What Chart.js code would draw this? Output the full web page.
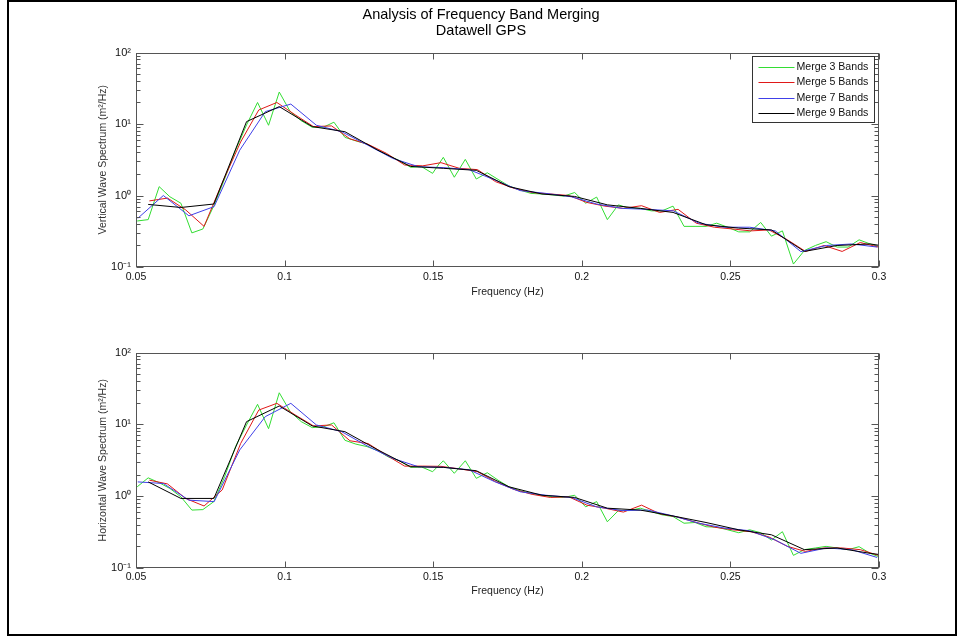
<!DOCTYPE html>
<html>
<head>
<meta charset="utf-8">
<title>Analysis of Frequency Band Merging</title>
<script src="https://cdn.jsdelivr.net/npm/chart.js@4.4.1/dist/chart.umd.min.js"></script>
<style>
body{margin:0;background:#fff;width:962px;height:638px;overflow:hidden;position:relative;}
.wrap{position:absolute;left:0;width:962px;}
#frame{position:absolute;left:7px;top:0;width:946px;height:632px;border:2px solid #000;}
</style>
</head>
<body>
<div class="wrap" style="top:0;height:310px"><canvas id="topChart" width="962" height="310"></canvas></div>
<div class="wrap" style="top:310px;height:300px"><canvas id="botChart" width="962" height="300"></canvas></div>
<div id="frame"></div>
<script>
/* band centre frequencies (Hz) for each merge size */
let freq3 = [0.0504,0.0541,0.0578,0.0614,0.0651,0.0688,0.0725,0.0762,0.0798,0.0835,
  0.0872,0.0909,0.0946,0.0982,0.1019,0.1056,0.1093,0.1130,0.1166,0.1203,
  0.1240,0.1277,0.1314,0.1350,0.1387,0.1424,0.1461,0.1498,0.1534,0.1571,
  0.1608,0.1645,0.1682,0.1718,0.1755,0.1792,0.1829,0.1866,0.1902,0.1939,
  0.1976,0.2013,0.2050,0.2086,0.2123,0.2160,0.2197,0.2234,0.2270,0.2307,
  0.2344,0.2381,0.2418,0.2454,0.2491,0.2528,0.2565,0.2602,0.2638,0.2675,
  0.2712,0.2749,0.2786,0.2822,0.2859,0.2896,0.2933,0.2970,0.3006];
let freq5 = [0.0545,0.0606,0.0667,0.0729,0.0790,0.0852,0.0913,0.0974,0.1036,0.1097,
  0.1158,0.1220,0.1281,0.1342,0.1404,0.1465,0.1526,0.1588,0.1649,0.1710,
  0.1772,0.1833,0.1894,0.1956,0.2017,0.2078,0.2140,0.2201,0.2262,0.2324,
  0.2385,0.2446,0.2508,0.2569,0.2630,0.2692,0.2753,0.2815,0.2876,0.2937,0.2998];
let freq7 = [0.0506,0.0592,0.0678,0.0763,0.0849,0.0935,0.1021,0.1107,0.1192,0.1278,
  0.1364,0.1450,0.1536,0.1621,0.1707,0.1793,0.1879,0.1965,0.2050,0.2136,
  0.2222,0.2308,0.2394,0.2479,0.2565,0.2651,0.2737,0.2823,0.2908,0.2994];
let freq9 = [0.0541,0.0651,0.0762,0.0872,0.0982,0.1093,0.1203,0.1314,0.1424,0.1534,
  0.1645,0.1755,0.1866,0.1976,0.2086,0.2197,0.2307,0.2418,0.2528,0.2638,
  0.2749,0.2859,0.2970,0.3080];

/* vertical spectrum (m^2/Hz) */
let vert3 = [0.44,0.46,1.33,0.96,0.78,0.30,0.34,0.72,1.7,4.3,
  9.7,20,9.6,28,14.9,11.1,9.0,9.0,10.6,6.5,
  5.8,5.25,4.3,3.6,3.07,2.48,2.53,2.04,3.42,1.8,
  3.2,1.70,2.08,1.68,1.36,1.19,1.07,1.05,1.02,0.98,
  1.1,0.78,0.95,0.46,0.74,0.66,0.66,0.61,0.61,0.71,
  0.37,0.37,0.37,0.41,0.36,0.31,0.31,0.42,0.27,0.32,
  0.11,0.17,0.20,0.226,0.19,0.19,0.24,0.21,0.19];
let vert5 = [0.84,0.92,0.63,0.37,1.5,5.6,15.7,20,13.4,9.2,
  9.4,6.2,5.2,3.9,2.67,2.6,2.88,2.4,2.3,1.56,
  1.26,1.1,1.05,1.0,0.8,0.71,0.66,0.72,0.58,0.64,
  0.41,0.36,0.34,0.32,0.33,0.24,0.165,0.2,0.165,0.22,0.19];
let vert7 = [0.48,1.0,0.52,0.70,4.3,14.9,19,9.6,7.8,5.1,
  3.3,2.53,2.45,2.3,1.65,1.17,1.07,0.96,0.76,0.66,
  0.64,0.61,0.41,0.36,0.36,0.32,0.164,0.2,0.21,0.19];
let vert9 = [0.75,0.68,0.76,10.8,17.5,9.2,7.8,4.3,2.55,2.4,
  2.25,1.33,1.05,0.97,0.74,0.66,0.58,0.39,0.35,0.33,
  0.165,0.20,0.21,0.18];

/* horizontal spectrum (m^2/Hz) */
let horiz3 = [1.35,1.8,1.54,1.28,0.98,0.64,0.65,0.84,1.86,4.9,
  9.8,19,8.7,27.5,15,10.9,9.0,9.2,10.5,6.0,
  5.3,4.9,4.3,3.5,3.1,2.52,2.55,2.19,3.11,2.08,
  3.11,1.77,2.12,1.67,1.35,1.19,1.09,1.03,0.98,0.96,
  1.03,0.71,0.84,0.44,0.63,0.63,0.68,0.61,0.55,0.52,
  0.42,0.43,0.375,0.37,0.34,0.31,0.34,0.31,0.245,0.32,
  0.15,0.18,0.19,0.20,0.19,0.18,0.198,0.16,0.14];
let horiz5 = [1.67,1.48,0.93,0.73,1.22,5.4,15.8,19.6,13.5,9.5,
  9.8,5.9,5.4,3.73,2.62,2.62,2.6,2.4,2.19,1.59,
  1.24,1.06,0.96,0.98,0.75,0.68,0.60,0.75,0.57,0.51,
  0.43,0.37,0.34,0.32,0.27,0.20,0.17,0.19,0.19,0.18,0.15];
let horiz7 = [1.58,1.5,0.88,0.84,4.4,12.8,19.6,9.8,7.9,5.0,
  3.36,2.57,2.52,2.33,1.59,1.15,1.03,0.96,0.71,0.63,
  0.64,0.53,0.42,0.36,0.33,0.245,0.16,0.19,0.18,0.14];
let horiz9 = [1.58,0.93,0.93,10.9,18,9.5,7.9,4.4,2.57,2.52,
  2.26,1.35,1.03,0.96,0.68,0.64,0.53,0.43,0.34,0.29,
  0.18,0.19,0.16,0.14];

let seriesNames = ["Merge 3 Bands","Merge 5 Bands","Merge 7 Bands","Merge 9 Bands"];
let seriesColors = ["#33dd33","#e01818","#4040e8","#000000"];
let xTicks = [0.05,0.1,0.15,0.2,0.25,0.3];
let xTickLabels = ["0.05","0.1","0.15","0.2","0.25","0.3"];
let yTicks = [0.1,1,10,100];
let yTickLabels = ["10\u207B\u00B9","10\u2070","10\u00B9","10\u00B2"];

Chart.defaults.font.family = "'Liberation Sans', Arial, sans-serif";
Chart.defaults.color = "#111";
const axisColor = "#555";

/* MATLAB style box with inward ticks */
const boxTicks = {
    id:"boxTicks",
    afterDatasetsDraw(chart){
        let ctx = chart.ctx, a = chart.chartArea, x = chart.scales.x, y = chart.scales.y;
        let L = Math.round(a.left)+0.5, R = Math.round(a.right)-0.5;
        let T = Math.round(a.top)+0.5, B = Math.round(a.bottom)-0.5;
        ctx.save();
        ctx.strokeStyle = axisColor;
        ctx.lineWidth = 1;
        ctx.strokeRect(L, T, R-L, B-T);
        ctx.beginPath();
        xTicks.forEach(v=>{
            let px = Math.round(x.getPixelForValue(v))+0.5;
            ctx.moveTo(px,B); ctx.lineTo(px,B-6);
            ctx.moveTo(px,T); ctx.lineTo(px,T+6);
        });
        yTicks.forEach(v=>{
            let py = Math.round(y.getPixelForValue(v))+0.5;
            ctx.moveTo(L,py); ctx.lineTo(L+7,py);
            ctx.moveTo(R,py); ctx.lineTo(R-7,py);
        });
        [0.1,1,10].forEach(d=>{
            for(let m=2;m<10;m++){
                let py = Math.round(y.getPixelForValue(d*m))+0.5;
                ctx.moveTo(L,py); ctx.lineTo(L+4,py);
                ctx.moveTo(R,py); ctx.lineTo(R-4,py);
            }
        });
        ctx.stroke();
        ctx.restore();
    }
};

/* boxed legend inside the top right of the axes */
const boxLegend = {
    id:"boxLegend",
    afterDraw(chart, args, opts){
        if(!opts.display) return;
        let ctx = chart.ctx, a = chart.chartArea;
        let left = Math.round(a.right - 127)+0.5, top = Math.round(a.top + 3.5)+0.5;
        ctx.save();
        ctx.fillStyle = "#fff";
        ctx.fillRect(left, top, 122, 66);
        ctx.strokeStyle = "#333";
        ctx.lineWidth = 1;
        ctx.strokeRect(left, top, 122, 66);
        ctx.font = "10.6px 'Liberation Sans', Arial, sans-serif";
        ctx.textBaseline = "middle";
        chart.data.datasets.forEach((ds,i)=>{
            let yy = Math.round(top + 10 + i*15.6)+0.5;
            ctx.strokeStyle = ds.borderColor;
            ctx.beginPath();
            ctx.moveTo(left+6, yy); ctx.lineTo(left+42, yy);
            ctx.stroke();
            ctx.fillStyle = "#111";
            ctx.fillText(ds.label, left+44, yy);
        });
        ctx.restore();
    }
};

function makeDatasets(d3,d5,d7,d9){
    let xs = [freq3,freq5,freq7,freq9], ys = [d3,d5,d7,d9];
    return seriesNames.map((name,i)=>({
        label:name,
        data:xs[i].map((f,j)=>({x:f,y:ys[i][j]})),
        borderColor:seriesColors[i],
        backgroundColor:seriesColors[i],
        borderWidth:1,
        pointRadius:0,
        tension:0,
        order:4-i
    }));
}

function makeOptions(yTitle, cfg){
    return {
        responsive:false,
        animation:false,
        layout:{padding:{left:83,right:83,top:cfg.padTop,bottom:0}},
        plugins:{
            legend:{display:false},
            tooltip:{enabled:false},
            title:cfg.title,
            boxLegend:{display:cfg.legend}
        },
        scales:{
            x:{
                type:"linear", min:0.05, max:0.3,
                afterBuildTicks(s){ s.ticks = xTicks.map(v=>({value:v})); },
                afterFit(s){ s.height = cfg.xHeight; },
                grid:{display:false, drawTicks:false},
                border:{display:false},
                ticks:{autoSkip:false, maxRotation:0, padding:cfg.xTickPad,
                       font:{size:10.5}, color:"#111",
                       callback:(v,i)=>xTickLabels[i]},
                title:{display:true, text:"Frequency (Hz)", font:{size:10.5}, color:"#222",
                       padding:{top:0,bottom:cfg.xTitlePad}}
            },
            y:{
                type:"logarithmic", min:0.1, max:100,
                afterBuildTicks(s){ s.ticks = yTicks.map(v=>({value:v})); },
                afterFit(s){ s.width = 53; },
                grid:{display:false, drawTicks:false},
                border:{display:false},
                ticks:{autoSkip:false, padding:5, font:{size:11}, color:"#111",
                       callback:(v,i)=>yTickLabels[i]},
                title:{display:true, text:yTitle, font:{size:10.5}, color:"#333",
                       padding:{top:14,bottom:0}}
            }
        }
    };
}

new Chart(document.getElementById("topChart"),{
    type:"line",
    data:{datasets:makeDatasets(vert3,vert5,vert7,vert9)},
    options:makeOptions("Vertical Wave Spectrum (m\u00B2/Hz)",{
        padTop:0, xHeight:43, xTickPad:4, xTitlePad:11.7, legend:true,
        title:{display:true, text:["Analysis of Frequency Band Merging","Datawell GPS"],
               font:{size:14.5, weight:"normal", lineHeight:1.1}, color:"#000",
               padding:{top:7,bottom:13.6}}
    }),
    plugins:[boxTicks, boxLegend]
});

new Chart(document.getElementById("botChart"),{
    type:"line",
    data:{datasets:makeDatasets(horiz3,horiz5,horiz7,horiz9)},
    options:makeOptions("Horizontal Wave Spectrum (m\u00B2/Hz)",{
        padTop:42.5, xHeight:42, xTickPad:3, xTitlePad:12.7, legend:false,
        title:{display:false}
    }),
    plugins:[boxTicks, boxLegend]
});
</script>
</body>
</html>
